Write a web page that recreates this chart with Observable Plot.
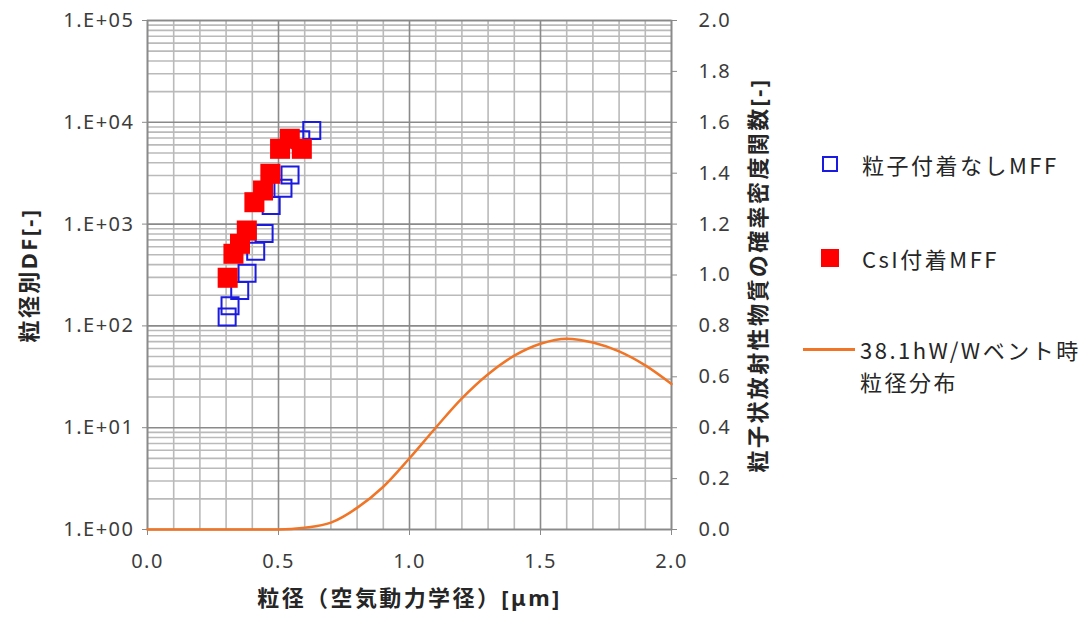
<!DOCTYPE html>
<html><head><meta charset="utf-8">
<script src="https://cdn.jsdelivr.net/npm/d3@7"></script>
<script src="https://cdn.jsdelivr.net/npm/@observablehq/plot@0.6"></script>
<style>
body{margin:0;background:#fff;}
#wrap{position:relative;width:1080px;height:621px;font-family:"Noto Sans CJK JP","Noto Sans",sans-serif;}
#wrap svg{position:absolute;left:0;top:0;}
svg g[aria-label$="axis label"] text{font-weight:bold;font-size:22px;letter-spacing:2.4px;fill:#262626;}
svg g[aria-label$="tick label"] text{letter-spacing:1.5px;}
.lg{position:absolute;font-size:22px;letter-spacing:2.5px;color:#262626;white-space:nowrap;line-height:32px;}
.sw{position:absolute;box-sizing:border-box;}
</style></head><body><div id="wrap"></div>
<script>
// 粒子付着なしMFF (open blue squares)
const blueX = [0.627, 0.585, 0.544, 0.517, 0.472, 0.445, 0.413, 0.380, 0.352, 0.315, 0.304];
const blueY = [8300, 6730, 3035, 2255, 1523, 809, 542, 329, 223, 158, 122];
// CsI付着MFF (filled red squares)
const redX = [0.543, 0.506, 0.589, 0.469, 0.441, 0.408, 0.379, 0.353, 0.328, 0.306];
const redY = [6890, 5490, 5490, 3120, 2138, 1641, 865, 640, 511, 297];
// 38.1hW/Wベント時 粒径分布 (right axis)
const curveX = [0.0, 0.5, 0.6, 0.7, 0.8, 0.9, 1.0, 1.1, 1.2, 1.3, 1.4, 1.5, 1.6, 1.7, 1.8, 1.9, 2.0];
const curveP = [0.0, 0.0, 0.007, 0.027, 0.085, 0.168, 0.28, 0.40, 0.515, 0.61, 0.683, 0.73, 0.75, 0.735, 0.70, 0.645, 0.572];

const xTicks = [0.0, 0.5, 1.0, 1.5, 2.0];
const xMinor = [0.1, 0.2, 0.3, 0.4, 0.6, 0.7, 0.8, 0.9, 1.1, 1.2, 1.3, 1.4, 1.6, 1.7, 1.8, 1.9];
const leftTicks = [1, 10, 100, 1000, 10000, 100000];
const leftTickLabels = ["1.E+00", "1.E+01", "1.E+02", "1.E+03", "1.E+04", "1.E+05"];
const yMinorMant = [2, 3, 4, 5, 6, 7, 8, 9];
const decades = [1, 10, 100, 1000, 10000];
const rightTicks = [0.0, 0.2, 0.4, 0.6, 0.8, 1.0, 1.2, 1.4, 1.6, 1.8, 2.0];

// y scale is linear in log10(DF); right axis value v maps to log10 position v*2.5
const lg = v => Math.log10(v);
const rightPos = v => v * 2.5;
const yMinor = decades.flatMap(d => yMinorMant.map(m => lg(m * d)));
const blue = blueX.map((x, i) => ({x, y: lg(blueY[i])}));
const red = redX.map((x, i) => ({x, y: lg(redY[i])}));
const curve = curveX.map((x, i) => ({x, y: rightPos(curveP[i])}));
const leftPos = leftTicks.map(lg);
const rightVals = rightTicks.map(rightPos);

const gridMinor = "#bababa", gridMajor = "#8a8a8a";

const chart = Plot.plot({
  width: 1080, height: 621,
  marginLeft: 147, marginRight: 409, marginTop: 20, marginBottom: 92,
  style: {fontFamily: '"Noto Sans","Noto Sans CJK JP",sans-serif', fontSize: "20px", color: "#3c3c3c", background: "transparent"},
  x: {domain: [0, 2]},
  y: {type: "linear", domain: [0, 5]},
  marks: [
    Plot.ruleX(xMinor, {stroke: gridMinor, strokeWidth: 1.6}),
    Plot.ruleY(yMinor, {stroke: gridMinor, strokeWidth: 1.6}),
    Plot.ruleX(xTicks, {stroke: gridMajor, strokeWidth: 1.6}),
    Plot.ruleY(leftPos, {stroke: gridMajor, strokeWidth: 1.6}),
    Plot.frame({stroke: gridMajor, strokeWidth: 1.6}),
    Plot.axisX({ticks: xTicks, tickFormat: d => d.toFixed(1), tickSize: 6, tickPadding: 18,
      stroke: gridMajor, label: "粒径（空気動力学径）[μm]", labelAnchor: "center", labelArrow: "none", labelOffset: 76}),
    Plot.axisY({anchor: "left", ticks: leftPos, tickFormat: d => leftTickLabels[Math.round(d)],
      tickSize: 5, tickPadding: 8, stroke: gridMajor,
      label: "粒径別DF[-]", labelAnchor: "center", labelArrow: "none", labelOffset: 126}),
    Plot.axisY({anchor: "right", ticks: rightVals,
      tickFormat: d => (d / 2.5).toFixed(1),
      tickSize: 5, tickPadding: 22, stroke: gridMajor,
      label: "粒子状放射性物質の確率密度関数[-]", labelAnchor: "center", labelArrow: "none", labelOffset: 94}),
    Plot.line(curve, {x: "x", y: "y", stroke: "#f07526", strokeWidth: 2.5, curve: "monotone-x"}),
    Plot.dot(blue, {x: "x", y: "y", symbol: "square", r: 9.6, stroke: "#1a1ae0", strokeWidth: 2, fill: "none"}),
    Plot.dot(red, {x: "x", y: "y", symbol: "square", r: 11.3, fill: "#ff0000", stroke: "none"})
  ]
});

const wrap = document.getElementById("wrap");
wrap.appendChild(chart);

function addSwatch(css) { const d = document.createElement("div"); d.className = "sw"; Object.assign(d.style, css); wrap.appendChild(d); }
function addText(html, left, top) { const d = document.createElement("div"); d.className = "lg"; d.innerHTML = html; d.style.left = left + "px"; d.style.top = top + "px"; wrap.appendChild(d); }
addSwatch({left: "822px", top: "156px", width: "16px", height: "16px", border: "2px solid #1a1ae0"});
addText("粒子付着なしMFF", 862, 148);
addSwatch({left: "821px", top: "249px", width: "18px", height: "18px", background: "#ff0000"});
addText("CsI付着MFF", 862, 242);
addSwatch({left: "803px", top: "348px", width: "52px", height: "2.5px", background: "#f07526"});
addText("38.1hW/Wベント時<br>粒径分布", 860, 333);
</script></body></html>
